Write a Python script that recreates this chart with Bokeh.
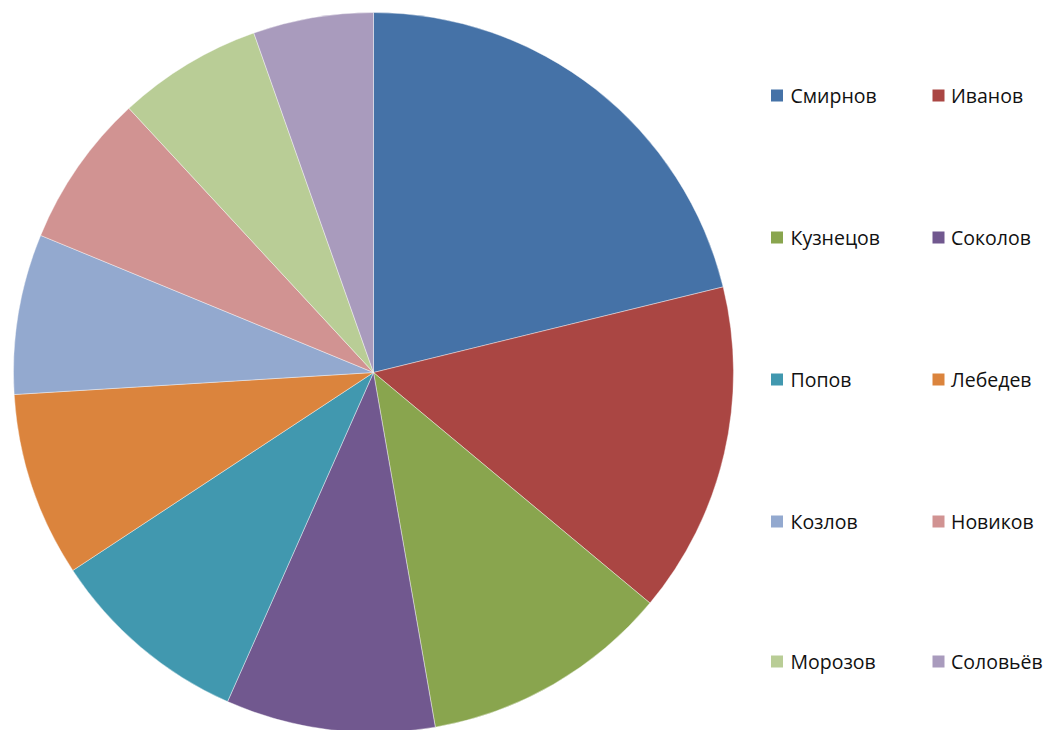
import math
from bokeh.plotting import figure
from bokeh.models import Range1d, ColumnDataSource
from bokeh.core.properties import value
from bokeh.embed import file_html
from bokeh.resources import INLINE

names = ["Смирнов", "Иванов", "Кузнецов", "Соколов", "Попов",
         "Лебедев", "Козлов", "Новиков", "Морозов", "Соловьёв"]
shares = [21.2, 14.9, 11.2, 9.4, 9.1, 8.3, 7.2, 6.9, 6.5, 5.4]
colors = ["#4572A7", "#AA4643", "#89A54E", "#71588F", "#4198AF",
          "#DB843D", "#93A9CF", "#D19392", "#B9CD96", "#A99BBD"]

W, H = 1046, 730
p = figure(width=W, height=H, output_backend="svg", toolbar_location=None,
           x_range=Range1d(0, W), y_range=Range1d(0, H), min_border=0)
p.axis.visible = False
p.grid.visible = False
p.outline_line_color = None
p.background_fill_color = "white"

# pie geometry (pixels, y measured from the top)
cx, cy, r = 373, H - 372, 360
total = sum(shares)
starts, ends = [], []
acc = 0.0
for v in shares:
    a0 = math.pi / 2 - 2 * math.pi * acc / total
    acc += v
    a1 = math.pi / 2 - 2 * math.pi * acc / total
    starts.append(a0)
    ends.append(a1)

src = ColumnDataSource(dict(x=[cx] * len(shares), y=[cy] * len(shares),
                            start=starts, end=ends, color=colors, name=names))
p.wedge(x="x", y="y", radius=r, start_angle="start", end_angle="end",
        direction="clock", fill_color="color", line_color="white",
        line_alpha=0.5, line_width=0.8, source=src)

# legend: 2 columns x 5 rows
col_x = [776.5, 938]
text_x = [790, 950.5]
row_y = [95, 237, 379, 521, 661]
lx, ly, tx, ty = [], [], [], []
for i in range(len(names)):
    c, rr = i % 2, i // 2
    yy = H - row_y[rr]
    lx.append(col_x[c]); ly.append(yy)
    tx.append(text_x[c]); ty.append(yy)

p.rect(x=lx, y=ly, width=12, height=12, fill_color=colors, line_color=None)
p.text(x=tx, y=ty, text=names, text_font=value("Open Sans"),
       text_font_size="19.5px", text_color="#111111",
       text_baseline="middle", text_align="left")

open("out.html", "w").write(file_html(p, INLINE))
